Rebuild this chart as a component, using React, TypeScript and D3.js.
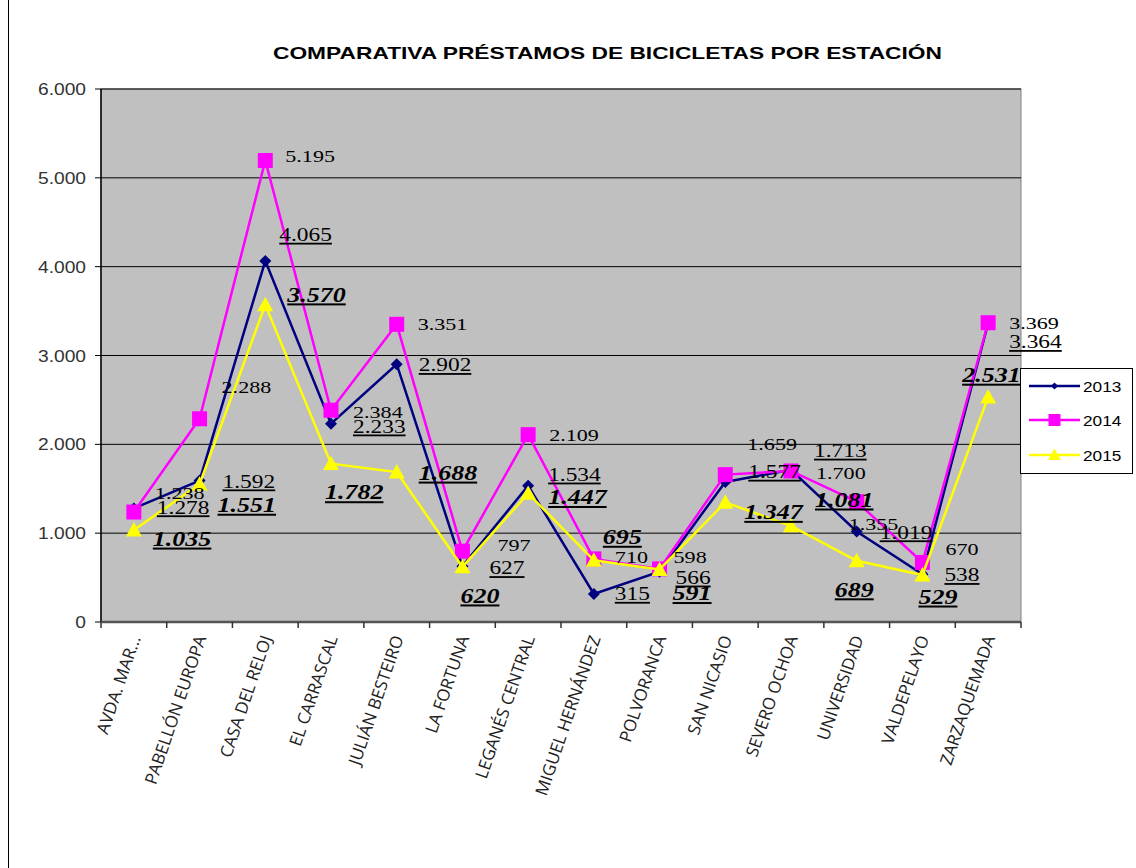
import React from "react";
import * as d3 from "d3";

const categories = [
  "AVDA. MAR...", "PABELLÓN EUROPA", "CASA DEL RELOJ", "EL CARRASCAL", "JULIÁN BESTEIRO",
  "LA FORTUNA", "LEGANÉS CENTRAL", "MIGUEL HERNÁNDEZ", "POLVORANCA", "SAN NICASIO",
  "SEVERO OCHOA", "UNIVERSIDAD", "VALDEPELAYO", "ZARZAQUEMADA",
];
const values2013 = [1278, 1592, 4065, 2233, 2902, 627, 1534, 315, 566, 1577, 1713, 1019, 538, 3364];
const values2014 = [1238, 2288, 5195, 2384, 3351, 797, 2109, 710, 598, 1659, 1700, 1355, 670, 3369];
const values2015 = [1035, 1551, 3570, 1782, 1688, 620, 1447, 695, 591, 1347, 1081, 689, 529, 2531];
const yTicks = [0, 1000, 2000, 3000, 4000, 5000, 6000];
const title = "COMPARATIVA PRÉSTAMOS DE BICICLETAS POR ESTACIÓN";

// label placement offsets (pixels, relative to the point)
const off2013: [number, number][] = [[23,-1],[23,1],[14,-26],[22,3],[22,1],[27,2],[20,-11],[21,0],[16,6],[23,-10],[23,-19],[23,1],[22,1],[21,19]];
const off2014: [number, number][] = [[21,-19],[22,-32],[20,-4],[22,2],[21,0],[35,-6],[21,1],[21,-2],[14,-12],[22,-30],[25,2],[-8,23],[23,-13],[21,0]];
const off2015: [number, number][] = [[19,9],[18,21],[22,-10],[-6,29],[22,1],[-2,29],[20,4],[9,-23],[13,24],[19,10],[24,-26],[-22,29],[-4,22],[-26,-22]];

const fmt = (v: number) => d3.format(",")(v).replace(/,/g, ".");

export default function App() {
  const W = 1136, H = 868;
  const left = 101, right = 1021, top = 89, bottom = 622;
  const x = d3.scaleBand<string>().domain(categories).range([left, right]);
  const y = d3.scaleLinear().domain([0, 6000]).range([bottom, top]);
  const cx = (i: number) => (x(categories[i]) as number) + x.bandwidth() / 2;
  const line = d3.line<number>().x((_, i) => cx(i)).y((d) => y(d));

  const series = [
    { name: "2013", vals: values2013, color: "#000080", marker: "diamond", off: off2013,
      font: { size: 18, weight: "normal", style: "normal", underline: true } },
    { name: "2014", vals: values2014, color: "#FF00FF", marker: "square", off: off2014,
      font: { size: 17, weight: "normal", style: "normal", underline: false } },
    { name: "2015", vals: values2015, color: "#FFFF00", marker: "triangle", off: off2015,
      font: { size: 20, weight: "bold", style: "italic", underline: true } },
  ];

  const marker = (type: string, px: number, py: number, color: string, key: string, sc = 1) => {
    if (type === "diamond") {
      const s = 6 * sc;
      return <path key={key} d={`M${px},${py - s}L${px + s},${py}L${px},${py + s}L${px - s},${py}Z`} fill={color} />;
    }
    if (type === "square") {
      const s = 7.5 * sc;
      return <rect key={key} x={px - s} y={py - s} width={2 * s} height={2 * s} fill={color} />;
    }
    const s = 8 * sc;
    return <path key={key} d={`M${px},${py - s}L${px + s},${py + s * 0.8}L${px - s},${py + s * 0.8}Z`} fill={color} />;
  };

  const legendY = [386, 420, 455];

  return (
    <svg width={W} height={H} style={{ position: "absolute", left: 0, top: 0, background: "#fff" }}>
      <line x1={8.5} y1={0} x2={8.5} y2={H} stroke="#000" strokeWidth={1} />
      <text x={273} y={59} textLength={669} lengthAdjust="spacingAndGlyphs"
        style={{ fontFamily: "Liberation Sans, Arial, sans-serif", fontWeight: "bold", fontSize: 17 }} fill="#000">
        {title}
      </text>

      <rect x={left} y={top} width={right - left} height={bottom - top} fill="#C0C0C0" stroke="#808080" strokeWidth={1} />
      {yTicks.map((t) => (
        <g key={t}>
          {t > 0 && <line x1={left} x2={right} y1={y(t)} y2={y(t)} stroke="#000" strokeWidth={1} />}
          <line x1={left - 6} x2={left} y1={y(t)} y2={y(t)} stroke="#000" strokeWidth={1} />
          <g transform={`translate(86,${y(t) + 6}) scale(1.2,1)`}>
            <text x={0} y={0} textAnchor="end" fill="#333"
              style={{ fontFamily: "Liberation Sans, Arial, sans-serif", fontSize: 16 }}>{fmt(t)}</text>
          </g>
        </g>
      ))}
      <line x1={left} x2={left} y1={top} y2={bottom} stroke="#000" strokeWidth={1.5} />
      <line x1={left} x2={right} y1={bottom} y2={bottom} stroke="#555" strokeWidth={2.5} />
      {categories.map((c, i) => (
        <line key={"tk" + i} x1={x(c) as number} x2={x(c) as number} y1={bottom} y2={bottom + 6} stroke="#333" strokeWidth={1.5} />
      ))}
      <line x1={right} x2={right} y1={bottom} y2={bottom + 6} stroke="#333" strokeWidth={1.5} />

      {categories.map((c, i) => (
        <text key={"xl" + i} transform={`translate(${cx(i) + 7},${638}) rotate(-71)`} textAnchor="end" fill="#222"
          style={{ fontFamily: "Open Sans, Noto Sans, sans-serif", fontSize: 17 }}>{c}</text>
      ))}

      {series.map((s) => (
        <g key={s.name}>
          <path d={line(s.vals) as string} fill="none" stroke={s.color} strokeWidth={2.5} />
          {s.vals.map((v, i) => marker(s.marker, cx(i), y(v), s.color, s.name + i))}
        </g>
      ))}

      {series.map((s) =>
        s.vals.map((v, i) => (
          <g key={"lb" + s.name + i} transform={`translate(${cx(i) + s.off[i][0]},${y(v) + s.off[i][1] + s.font.size * 0.34}) scale(1.3,1)`}>
            <text x={0} y={0} fill="#000"
              style={{ fontFamily: "Liberation Serif, Times New Roman, serif", fontSize: s.font.size, fontWeight: s.font.weight as any,
                fontStyle: s.font.style as any, textDecoration: s.font.underline ? "underline" : "none" }}>
              {fmt(v)}
            </text>
          </g>
        ))
      )}

      <rect x={1020.5} y={368.5} width={112} height={105} fill="#fff" stroke="#000" strokeWidth={1} />
      {series.map((s, k) => (
        <g key={"lg" + s.name}>
          <line x1={1029} x2={1080} y1={legendY[k]} y2={legendY[k]} stroke={s.color} strokeWidth={2.5} />
          {marker(s.marker, 1054.5, legendY[k], s.color, "lm" + k, s.marker === "diamond" ? 0.6 : 0.8)}
          <g transform={`translate(1083,${legendY[k] + 6}) scale(1.15,1)`}>
            <text x={0} y={0} fill="#000" style={{ fontFamily: "Liberation Sans, Arial, sans-serif", fontSize: 15 }}>{s.name}</text>
          </g>
        </g>
      ))}
    </svg>
  );
}
